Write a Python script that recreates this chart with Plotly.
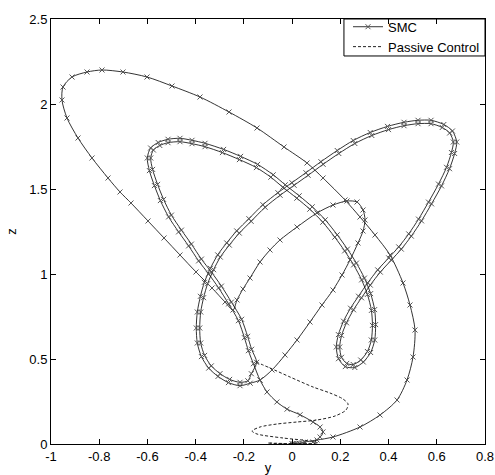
import plotly.graph_objects as go

# ---- data (y, z) ----
# initial transient from near the origin into the attractor
start_y = [0.087, 0.116, 0.128, 0.116, 0.087, 0.033, -0.021, -0.063, -0.104, -0.133]
start_z = [0.012, 0.041, 0.071, 0.100, 0.129, 0.172, 0.205, 0.247, 0.306, 0.376]

# first pass around the double-scroll figure
pass1_y = [-0.1605, -0.1813, -0.1978, -0.2227, -0.2634, -0.3049, -0.3463, -0.3878, -0.4293, -0.4708,
           -0.5122, -0.5463, -0.5711, -0.5919, -0.6006, -0.5869, -0.5554, -0.5147, -0.4650, -0.4152,
           -0.3613, -0.2841, -0.2136, -0.1431, -0.0784, -0.0286, 0.0294, 0.0834, 0.1373, 0.1871,
           0.2294, 0.2667, 0.2999, 0.3256, 0.3422, 0.3463, 0.3426, 0.3256, 0.2953, 0.2601,
           0.2207, 0.1925, 0.1833, 0.1920, 0.2132, 0.2422, 0.2754, 0.3136, 0.3550, 0.4007,
           0.4421, 0.4836, 0.5243, 0.5657, 0.6072, 0.6404, 0.6607, 0.6686, 0.6533, 0.6226,
           0.5761, 0.5222, 0.4641, 0.3998, 0.3306, 0.2601, 0.1937, 0.1286, 0.0664, 0.0083,
           -0.0498, -0.1120, -0.1701, -0.2190, -0.2605, -0.2978, -0.3256, -0.3505, -0.3671, -0.3791,
           -0.3832, -0.3791, -0.3629, -0.3351, -0.2990, -0.2592, -0.2161, -0.1837, -0.1692]
pass1_z = [0.4724, 0.5488, 0.6253, 0.7253, 0.8241, 0.9182, 1.0006, 1.0771, 1.1653, 1.2477,
           1.3359, 1.4318, 1.5200, 1.6082, 1.6824, 1.7412, 1.7735, 1.7924, 1.7982, 1.7865,
           1.7688, 1.7329, 1.6918, 1.6447, 1.5835, 1.5247, 1.4600, 1.3953, 1.3188, 1.2306,
           1.1465, 1.0641, 0.9759, 0.8847, 0.7906, 0.7024, 0.6118, 0.5382, 0.4824, 0.4500,
           0.4553, 0.5018, 0.5706, 0.6435, 0.7224, 0.7988, 0.8694, 0.9477, 1.0241, 1.0947,
           1.1594, 1.2359, 1.3229, 1.4229, 1.5288, 1.6276, 1.7147, 1.7765, 1.8294, 1.8618,
           1.8841, 1.8841, 1.8724, 1.8494, 1.8147, 1.7676, 1.7088, 1.6453, 1.5806, 1.5218,
           1.4629, 1.3924, 1.3100, 1.2406, 1.1700, 1.0994, 1.0253, 0.9429, 0.8606, 0.7765,
           0.6824, 0.5941, 0.5212, 0.4594, 0.4141, 0.3800, 0.3629, 0.3718, 0.4135]

# second, slightly shifted pass
pass2_y = [-0.1472, -0.1680, -0.1846, -0.2095, -0.2518, -0.2932, -0.3347, -0.3762, -0.4177, -0.4591,
           -0.5006, -0.5330, -0.5579, -0.5786, -0.5865, -0.5753, -0.5487, -0.5147, -0.4650, -0.4152,
           -0.3613, -0.2891, -0.2186, -0.1481, -0.0883, -0.0386, 0.0195, 0.0734, 0.1273, 0.1771,
           0.2178, 0.2551, 0.2883, 0.3123, 0.3289, 0.3331, 0.3285, 0.3123, 0.2845, 0.2534,
           0.2265, 0.2049, 0.1974, 0.2053, 0.2256, 0.2547, 0.2878, 0.3243, 0.3658, 0.4115,
           0.4529, 0.4944, 0.5367, 0.5782, 0.6197, 0.6528, 0.6740, 0.6827, 0.6649, 0.6292,
           0.5761, 0.5222, 0.4641, 0.3957, 0.3239, 0.2534, 0.1871, 0.1195, 0.0572, -0.0008,
           -0.0589, -0.1211, -0.1792, -0.2298, -0.2713, -0.3086, -0.3389, -0.3638, -0.3803, -0.3932,
           -0.3974, -0.3932, -0.3762, -0.3459, -0.3073, -0.2642, -0.2161, -0.1738]
pass2_z = [0.4806, 0.5571, 0.6335, 0.7335, 0.8347, 0.9288, 1.0112, 1.0877, 1.1759, 1.2582,
           1.3465, 1.4388, 1.5271, 1.6153, 1.6824, 1.7294, 1.7559, 1.7724, 1.7782, 1.7665,
           1.7488, 1.7141, 1.6729, 1.6259, 1.5694, 1.5106, 1.4459, 1.3812, 1.3047, 1.2165,
           1.1359, 1.0535, 0.9653, 0.8800, 0.7859, 0.6976, 0.6118, 0.5441, 0.4941, 0.4676,
           0.4741, 0.5100, 0.5706, 0.6388, 0.7129, 0.7894, 0.8600, 0.9347, 1.0112, 1.0818,
           1.1465, 1.2229, 1.3124, 1.4124, 1.5182, 1.6194, 1.7088, 1.7765, 1.8412, 1.8794,
           1.9041, 1.9041, 1.8924, 1.8682, 1.8324, 1.7853, 1.7265, 1.6606, 1.5959, 1.5371,
           1.4782, 1.4076, 1.3253, 1.2535, 1.1829, 1.1124, 1.0335, 0.9512, 0.8688, 0.7765,
           0.6824, 0.5941, 0.5141, 0.4465, 0.3976, 0.3612, 0.3429, 0.3576]

# small upper loop
loop_y = [-0.1331, -0.0834, -0.0294, 0.0203, 0.0742, 0.1240, 0.1696, 0.2070, 0.2402, 0.2733,
          0.2941, 0.3024, 0.2941, 0.2692, 0.2277, 0.1696, 0.1033, 0.0203, -0.0502, -0.0917,
          -0.1331, -0.1746, -0.2037, -0.2285, -0.2451]
loop_z = [0.3765, 0.4353, 0.5235, 0.6118, 0.7176, 0.8176, 0.9059, 0.9941, 1.0824, 1.1824,
          1.2529, 1.3176, 1.3765, 1.4235, 1.4294, 1.4059, 1.3588, 1.2765, 1.2000, 1.1412,
          1.0706, 0.9765, 0.9118, 0.8471, 0.7882]

# large excursion after the control is switched on, converging to the origin
big_y = [-0.2783, -0.3322, -0.3986, -0.4650, -0.5313, -0.5977, -0.6682, -0.7138, -0.7636, -0.8300,
         -0.8880, -0.9336, -0.9544, -0.9502, -0.9129, -0.8507, -0.7885, -0.7014, -0.6018, -0.4981,
         -0.3820, -0.2617, -0.1456, -0.0336, 0.0618, 0.1282, 0.2194, 0.2816, 0.3438, 0.4061,
         0.4600, 0.4890, 0.5097, 0.5015, 0.4766, 0.4351, 0.3646, 0.2816, 0.1696, 0.1033,
         0.0535, 0.040, 0.030, 0.020, 0.012, 0.006, 0.002, 0.0]
big_z = [0.8353, 0.9176, 1.0118, 1.1118, 1.2118, 1.3118, 1.4176, 1.4824, 1.5647, 1.6824,
         1.8000, 1.9176, 2.0235, 2.1000, 2.1588, 2.1882, 2.2000, 2.1882, 2.1588, 2.1059,
         2.0412, 1.9529, 1.8588, 1.7471, 1.6529, 1.5647, 1.4353, 1.3353, 1.2294, 1.1118,
         0.9471, 0.8176, 0.6706, 0.5118, 0.3765, 0.2588, 0.1706, 0.1000, 0.0412, 0.0235,
         0.0118, 0.006, 0.004, 0.003, 0.002, 0.001, 0.0005, 0.0]

# passive control branch (dashed)
passive_y = [-0.1497, -0.0917, -0.0087, 0.0867, 0.1572, 0.2111, 0.2319, 0.2236, 0.1779, 0.1033,
             0.0203, -0.0626, -0.1331, -0.1663, -0.1456, -0.0377, 0.0742, 0.1074, 0.0328, -0.0709,
             -0.1000, 0.0]
passive_z = [0.4824, 0.4471, 0.3941, 0.3353, 0.3000, 0.2647, 0.2353, 0.2000, 0.1647, 0.1412,
             0.1294, 0.1176, 0.1000, 0.0765, 0.0588, 0.0353, 0.0176, 0.0059, 0.003, 0.003,
             0.0059, 0.001]

x_ticks = [-1, -0.8, -0.6, -0.4, -0.2, 0, 0.2, 0.4, 0.6, 0.8]
x_labels = ["-1", "-0.8", "-0.6", "-0.4", "-0.2", "0", "0.2", "0.4", "0.6", "0.8"]
y_ticks = [0, 0.5, 1, 1.5, 2, 2.5]
y_labels = ["0", "0.5", "1", "1.5", "2", "2.5"]

smc_y = start_y + pass1_y + pass2_y + loop_y + big_y
smc_z = start_z + pass1_z + pass2_z + loop_z + big_z

FONT = "Liberation Sans, Arial, sans-serif"

fig = go.Figure()
fig.add_trace(go.Scatter(
    x=smc_y, y=smc_z, mode="lines+markers", name="SMC",
    line=dict(color="black", width=0.8, shape="spline", smoothing=0.8),
    marker=dict(symbol="x-thin", size=5, line=dict(color="#555555", width=1)),
))
fig.add_trace(go.Scatter(
    x=passive_y, y=passive_z, mode="lines", name="Passive Control",
    line=dict(color="#222222", width=1, dash="3px,2px", shape="spline", smoothing=0.8),
))

fig.update_layout(
    width=495, height=475,
    margin=dict(l=51, r=10, t=19, b=31),
    paper_bgcolor="white", plot_bgcolor="white",
    font=dict(family=FONT, size=13, color="black"),
    showlegend=True,
    legend=dict(x=1, xanchor="right", y=1.017, yanchor="top",
                bgcolor="rgba(0,0,0,0)", borderwidth=0,
                font=dict(family=FONT, size=13, color="black"),
                itemwidth=30, tracegroupgap=0),
    # legend frame
    shapes=[dict(type="rect", xref="paper", yref="paper",
                 x0=0.675, x1=1.0, y0=0.913, y1=1.0,
                 line=dict(color="black", width=1), fillcolor="rgba(0,0,0,0)",
                 layer="above")],
)
fig.update_xaxes(
    range=[-1, 0.8], tickmode="array", tickvals=x_ticks, ticktext=x_labels,
    ticks="inside", ticklen=5, tickcolor="black", showline=True, linecolor="black",
    linewidth=1, mirror="ticks", showgrid=False, zeroline=False,
    title=dict(text="y", standoff=5, font=dict(family=FONT, size=13)),
    automargin=False,
)
fig.update_yaxes(
    range=[0, 2.5], tickmode="array", tickvals=y_ticks, ticktext=y_labels,
    ticks="inside", ticklen=5, tickcolor="black", showline=True, linecolor="black",
    linewidth=1, mirror="ticks", showgrid=False, zeroline=False,
    title=dict(text="z", standoff=9, font=dict(family=FONT, size=13)),
    automargin=False,
)

# remove the browser's default 8px page margin so the figure fills the window
fig.write_html("out.html", config={"displayModeBar": False},
               post_script="document.body.style.margin='0';document.body.style.overflow='hidden';")
